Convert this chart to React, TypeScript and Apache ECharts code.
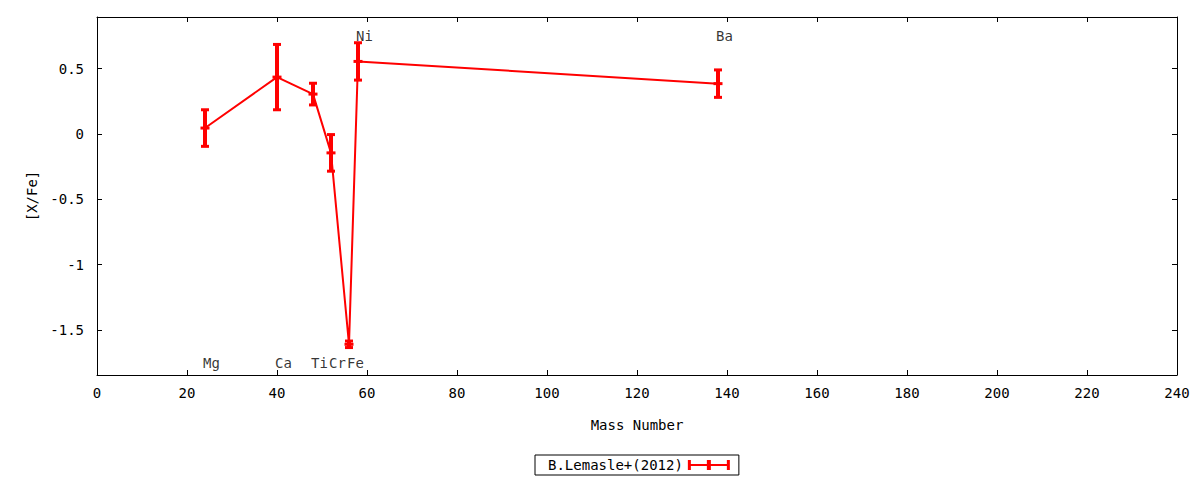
import React, { useEffect, useRef } from "react";
import * as echarts from "echarts";

const elements = ["Mg", "Ca", "Ti", "Cr", "Fe", "Ni", "Ba"];
const massNumbers = [24, 40, 48, 52, 56, 58, 138];
const xFe = [0.045, 0.435, 0.305, -0.145, -1.61, 0.555, 0.385];
const xFeErr = [0.14, 0.25, 0.083, 0.14, 0.025, 0.143, 0.105];
const labelYs = [-1.75, -1.75, -1.75, -1.75, -1.75, 0.75, 0.75];
const yTicks = [-1.5, -1, -0.5, 0, 0.5];
const seriesName = "B.Lemasle+(2012)";

const FONT = "DejaVu Sans Mono";
const RED = "#ff0000";

export default function App() {
  const ref = useRef<HTMLDivElement>(null);
  useEffect(() => {
    document.body.style.margin = "0";
    const chart = echarts.init(ref.current!, null, { renderer: "svg" });
    const pts = massNumbers.map((m, i) => [m, xFe[i], xFeErr[i]]);
    const labels = massNumbers.map((m, i) => [m, labelYs[i], elements[i]]);
    const axisCommon = {
      axisLine: { show: true, onZero: false, lineStyle: { color: "#000", width: 1 } },
      axisTick: { show: true, inside: true, length: 5, lineStyle: { color: "#000" } },
      splitLine: { show: false },
    };
    const option: any = {
      animation: false,
      textStyle: { fontFamily: FONT, color: "#000" },
      grid: { left: 97, right: 23, top: 17, bottom: 105, outerBoundsMode: "none" },
      legend: {
        left: 535,
        top: 455,
        align: "right",
        orient: "horizontal",
        borderColor: "#000",
        borderWidth: 1,
        borderRadius: 0,
        padding: [3, 9, 3, 13],
        itemWidth: 42,
        itemHeight: 10,
        textStyle: { fontFamily: FONT, fontSize: 14, color: "#000" },
        data: [
          {
            name: seriesName,
            icon: "path://M0,4H42V6H0Z M0,0H3V10H0Z M19,0H23V10H19Z M39,0H42V10H39Z",
            itemStyle: { color: RED },
          },
        ],
      },
      xAxis: [
        {
          type: "value",
          min: 0,
          max: 240,
          interval: 20,
          position: "bottom",
          name: "Mass Number",
          nameLocation: "middle",
          nameGap: 43,
          nameTextStyle: { fontFamily: FONT, fontSize: 14, color: "#000" },
          axisLabel: { margin: 11, fontFamily: FONT, fontSize: 14, color: "#000" },
          ...axisCommon,
        },
        {
          type: "value",
          min: 0,
          max: 240,
          interval: 20,
          position: "top",
          axisLabel: { show: false },
          ...axisCommon,
        },
      ],
      yAxis: [
        {
          type: "value",
          min: -1.845,
          max: 0.895,
          position: "left",
          name: "[X/Fe]",
          nameLocation: "middle",
          nameGap: 58,
          nameTextStyle: { fontFamily: FONT, fontSize: 14, color: "#000" },
          axisLabel: {
            margin: 13,
            fontFamily: FONT,
            fontSize: 14,
            color: "#000",
            customValues: yTicks,
          },
          ...axisCommon,
          axisTick: { ...axisCommon.axisTick, customValues: yTicks },
        },
        {
          type: "value",
          min: -1.845,
          max: 0.895,
          position: "right",
          axisLabel: { show: false, customValues: yTicks },
          ...axisCommon,
          axisTick: { ...axisCommon.axisTick, customValues: yTicks },
        },
      ],
      series: [
        {
          type: "line",
          name: seriesName,
          data: pts.map((p) => [p[0], p[1]]),
          showSymbol: false,
          symbol: "none",
          lineStyle: { color: RED, width: 2 },
          itemStyle: { color: RED },
          z: 2,
        },
        {
          type: "custom",
          name: seriesName,
          data: pts,
          encode: { x: 0, y: 1 },
          itemStyle: { color: RED },
          z: 3,
          renderItem: (params: any, api: any) => {
            const x = api.value(0);
            const y = api.value(1);
            const e = api.value(2);
            const c = api.coord([x, y]);
            const hi = api.coord([x, y + e]);
            const lo = api.coord([x, y - e]);
            const style = { fill: RED };
            return {
              type: "group",
              children: [
                { type: "rect", shape: { x: c[0] - 2, y: hi[1], width: 4, height: lo[1] - hi[1] }, style },
                { type: "rect", shape: { x: c[0] - 4, y: hi[1] - 1.5, width: 8, height: 3 }, style },
                { type: "rect", shape: { x: c[0] - 4, y: lo[1] - 1.5, width: 8, height: 3 }, style },
                { type: "rect", shape: { x: c[0] - 4.5, y: c[1] - 1.5, width: 9, height: 3 }, style },
              ],
            };
          },
        },
        {
          type: "scatter",
          name: "labels",
          data: labels,
          symbolSize: 0,
          itemStyle: { color: "#000" },
          label: {
            show: true,
            position: "right",
            distance: 0,
            offset: [-2, 0],
            formatter: (p: any) => p.value[2],
            fontFamily: FONT,
            fontSize: 14,
            color: "#000",
          },
          z: 4,
        },
      ],
    };
    chart.setOption(option);
    return () => chart.dispose();
  }, []);
  return <div ref={ref} style={{ width: 1200, height: 480 }} />;
}
